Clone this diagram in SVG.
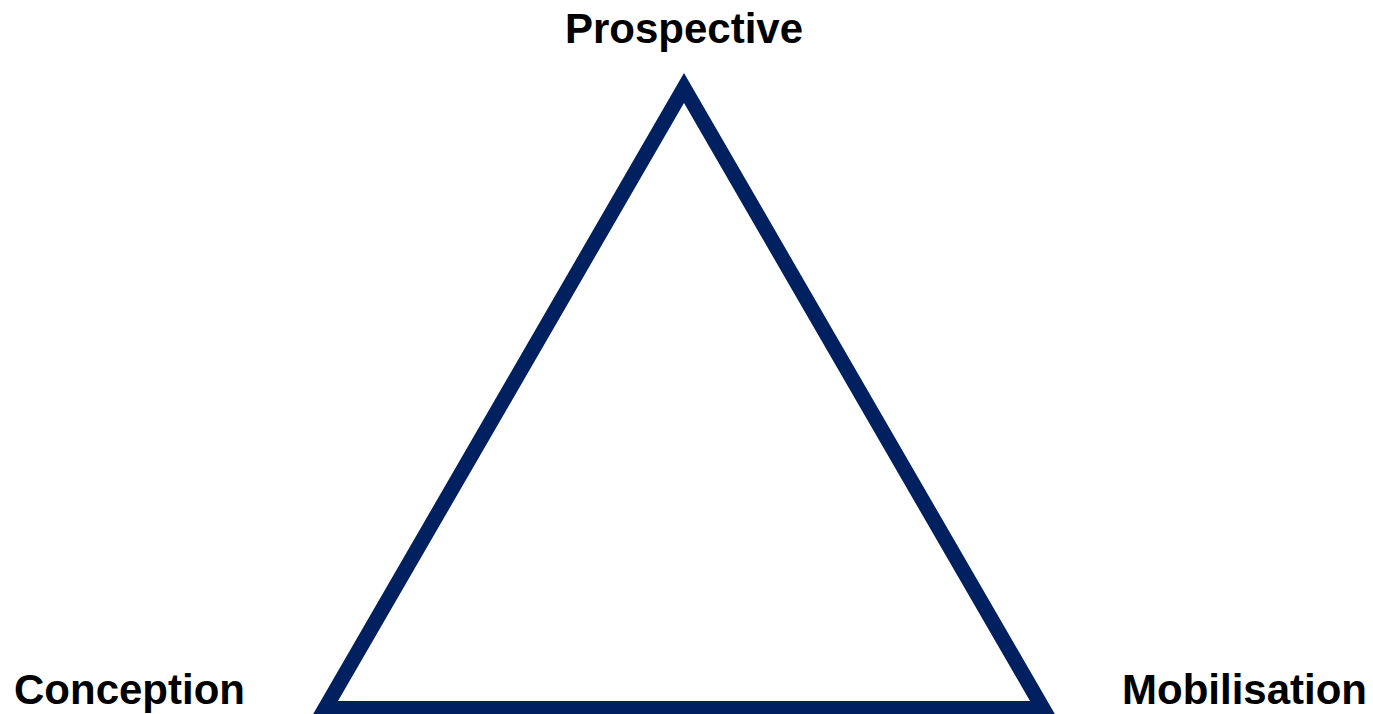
<svg xmlns="http://www.w3.org/2000/svg" width="1373" height="714" viewBox="0 0 1373 714">
<style>
text{font-family:"Liberation Sans",Arial,sans-serif;font-weight:bold;font-size:42px;fill:#000}
.tri{fill:none;stroke:#002060;stroke-width:15;stroke-linejoin:miter;stroke-miterlimit:10}
</style>
<rect width="1373" height="714" fill="#fff"/>
<g id="triangle"><polygon class="tri" points="684,88 1043,708.5 325,708.5"/></g>
<g id="prospective"><text x="684" y="43" text-anchor="middle">Prospective</text></g>
<g id="conception"><text x="14" y="703.5">Conception</text></g>
<g id="mobilisation"><text x="1367" y="703.5" text-anchor="end">Mobilisation</text></g>
</svg>
